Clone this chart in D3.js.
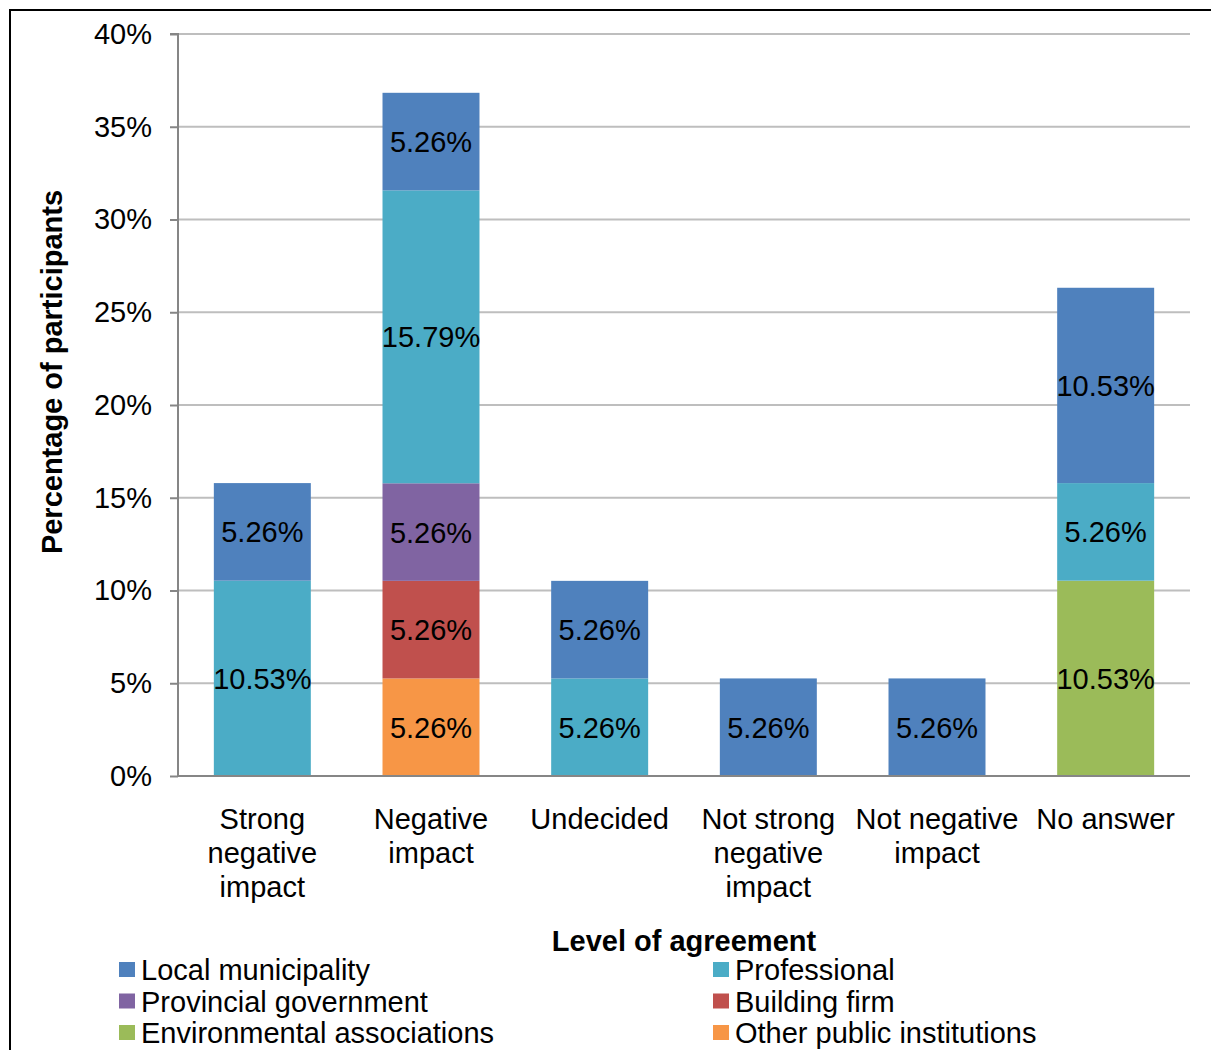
<!DOCTYPE html>
<html>
<head>
<meta charset="utf-8">
<script src="https://cdn.jsdelivr.net/npm/d3@7"></script>
<style>
  html, body { margin: 0; padding: 0; background: #fff; }
  svg { display: block; font-family: "Liberation Sans", Arial, sans-serif; }
</style>
</head>
<body>
<svg id="chart" width="1211" height="1050"></svg>
<script>
// Level-of-agreement categories (x axis)
const categories = [
  ["Strong", "negative", "impact"],
  ["Negative", "impact"],
  ["Undecided"],
  ["Not strong", "negative", "impact"],
  ["Not negative", "impact"],
  ["No answer"]
];

// Stakeholder groups, listed bottom-to-top in the stack
const seriesNames = [
  "Environmental associations",
  "Other public institutions",
  "Building firm",
  "Provincial government",
  "Professional",
  "Local municipality"
];

// Percentages per category, one array per group
const environmental = [0, 0, 0, 0, 0, 10.53];
const otherPublic   = [0, 5.26, 0, 0, 0, 0];
const buildingFirm  = [0, 5.26, 0, 0, 0, 0];
const provincial    = [0, 5.26, 0, 0, 0, 0];
const professional  = [10.53, 15.79, 5.26, 0, 0, 5.26];
const localMunic    = [5.26, 5.26, 5.26, 5.26, 5.26, 10.53];

const seriesValues = [environmental, otherPublic, buildingFirm, provincial, professional, localMunic];

const seriesColors = {
  "Local municipality": "#4F81BD",
  "Professional": "#4BACC6",
  "Provincial government": "#8064A2",
  "Building firm": "#C0504D",
  "Environmental associations": "#9BBB59",
  "Other public institutions": "#F79646"
};

// Legend layout order (two columns, row by row)
const legendOrder = [
  "Local municipality", "Professional",
  "Provincial government", "Building firm",
  "Environmental associations", "Other public institutions"
];

const yTicks = [0, 5, 10, 15, 20, 25, 30, 35, 40];

const svg = d3.select("#chart");
const FONT = 29;

// outer frame
svg.append("rect")
  .attr("x", 10).attr("y", 10)
  .attr("width", 1220).attr("height", 1060)
  .attr("fill", "none").attr("stroke", "#000").attr("stroke-width", 2);

const plot = { left: 178, right: 1190, top: 34, bottom: 776 };

const x = d3.scaleBand()
  .domain(d3.range(categories.length))
  .range([plot.left, plot.right])
  .paddingInner(0.425).paddingOuter(0.2125);

const y = d3.scaleLinear().domain([0, 40]).range([plot.bottom, plot.top]);

// gridlines
svg.append("g").selectAll("line")
  .data(yTicks.filter(t => t > 0))
  .join("line")
  .attr("x1", plot.left).attr("x2", plot.right)
  .attr("y1", d => y(d)).attr("y2", d => y(d))
  .attr("stroke", "#BEBEBE").attr("stroke-width", 2);

// stacked data
const rows = categories.map((c, i) => {
  const r = { idx: i };
  seriesNames.forEach((s, k) => r[s] = seriesValues[k][i]);
  return r;
});
const stacked = d3.stack().keys(seriesNames)(rows);

const segs = svg.append("g");
stacked.forEach(layer => {
  const name = layer.key;
  layer.forEach((d, i) => {
    const v = d[1] - d[0];
    if (v <= 0) return;
    segs.append("rect")
      .attr("x", x(i))
      .attr("width", x.bandwidth())
      .attr("y", y(d[1]))
      .attr("height", y(d[0]) - y(d[1]))
      .attr("fill", seriesColors[name]);
  });
});

// value labels
const labels = svg.append("g");
stacked.forEach(layer => {
  layer.forEach((d, i) => {
    const v = d[1] - d[0];
    if (v <= 0) return;
    labels.append("text")
      .attr("x", x(i) + x.bandwidth() / 2)
      .attr("y", (y(d[0]) + y(d[1])) / 2)
      .attr("dy", "0.36em")
      .attr("text-anchor", "middle")
      .attr("font-size", FONT)
      .attr("fill", "#000")
      .text(v.toFixed(2) + "%");
  });
});

// y axis
const yAxis = d3.axisLeft(y).tickValues(yTicks).tickFormat(d => d + "%").tickSize(8).tickPadding(18);
const gy = svg.append("g").attr("transform", `translate(${plot.left},0)`).call(yAxis);
gy.select(".domain").attr("stroke", "#868686").attr("stroke-width", 2).attr("d", `M-8,${plot.top}H0V${plot.bottom}`);
gy.selectAll(".tick line").attr("stroke", "#868686").attr("stroke-width", 2);
gy.selectAll(".tick text").attr("font-size", FONT).attr("fill", "#000")
  .attr("font-family", "Liberation Sans, Arial, sans-serif");

// x axis baseline
svg.append("line")
  .attr("x1", plot.left).attr("x2", plot.right)
  .attr("y1", plot.bottom).attr("y2", plot.bottom)
  .attr("stroke", "#868686").attr("stroke-width", 2);

// category labels
const catG = svg.append("g");
categories.forEach((lines, i) => {
  const t = catG.append("text")
    .attr("text-anchor", "middle")
    .attr("font-size", FONT)
    .attr("fill", "#000");
  lines.forEach((ln, j) => {
    t.append("tspan")
      .attr("x", x(i) + x.bandwidth() / 2)
      .attr("y", 829 + j * 34)
      .text(ln);
  });
});

// axis titles
svg.append("text")
  .attr("x", 684).attr("y", 951)
  .attr("text-anchor", "middle")
  .attr("font-size", FONT).attr("font-weight", "bold")
  .text("Level of agreement");

svg.append("text")
  .attr("transform", "translate(62,372) rotate(-90)")
  .attr("text-anchor", "middle")
  .attr("font-size", FONT).attr("font-weight", "bold")
  .text("Percentage of participants");

// legend
const legend = svg.append("g");
legendOrder.forEach((name, k) => {
  const col = k % 2, row = Math.floor(k / 2);
  const sx = col === 0 ? 119 : 713;
  const cy = 970 + row * 31.5;
  legend.append("rect")
    .attr("x", sx).attr("y", cy - 8)
    .attr("width", 16).attr("height", 15)
    .attr("fill", seriesColors[name]);
  legend.append("text")
    .attr("x", sx + 22).attr("y", cy)
    .attr("dy", "0.36em")
    .attr("font-size", FONT)
    .attr("fill", "#000")
    .text(name);
});
</script>
</body>
</html>
